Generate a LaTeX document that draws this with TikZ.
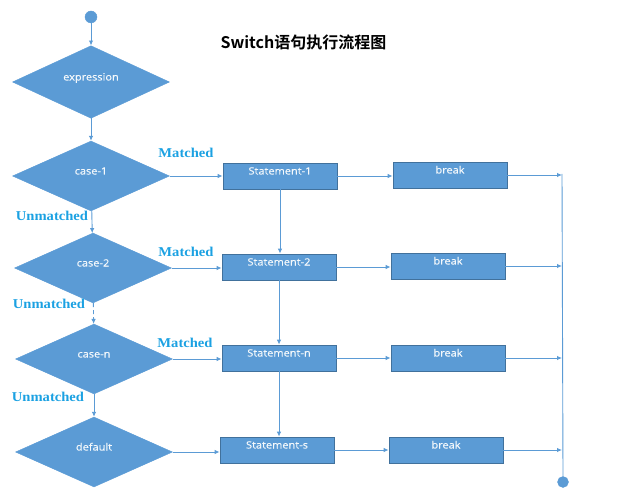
\documentclass[tikz,border=0pt]{standalone}
\usepackage{fontspec}
\usetikzlibrary{arrows.meta, shapes.geometric, positioning, calc}
\setmainfont{Open Sans}
\newfontfamily\boxfont{Open Sans}[FakeStretch=1.1, FakeBold=0.4]
\newfontfamily\lblfont{Liberation Serif}[FakeStretch=1.08]
\newfontfamily\titlefont{Noto Sans CJK SC}[BoldFont={Noto Sans CJK SC Bold}]
\definecolor{flowblue}{HTML}{5B9BD5}
\definecolor{flowedge}{HTML}{41719C}
\definecolor{flowline}{HTML}{5B9BD5}
\definecolor{lblblue}{HTML}{1BA1E2}
\tikzset{
  boxtext/.style={font=\boxfont\fontsize{10}{11}\selectfont, text=white!94!flowblue, text height=7pt, text depth=10pt},
  cond/.style={diamond, draw=flowblue, fill=flowblue, minimum width=157pt, minimum height=70pt, inner sep=0pt, boxtext},
  stmt/.style={rectangle, draw=flowedge, line width=0.8pt, fill=flowblue, minimum width=114pt, minimum height=26pt, inner sep=2pt, boxtext},
  term/.style={circle, draw=flowblue, fill=flowblue, minimum size=12pt, inner sep=0pt},
  lbl/.style={font=\lblfont\bfseries\fontsize{13.5}{14}\selectfont, text=lblblue, inner sep=0pt},
  pto/.style={-{Latex[length=5pt,width=4.5pt]}, flowline, line width=0.9pt},
  dpto/.style={pto, dashed, dash pattern=on 4pt off 3pt}
}
\begin{document}
\begin{tikzpicture}[x=1pt, y=-1pt]
  \useasboundingbox (0,0) rectangle (618,494);

  \node[font=\titlefont\bfseries\fontsize{16}{18}\selectfont, anchor=west] (title) at (217,42) {Switch语句执行流程图};

  % left column
  \node[term] (start) at (91,17) {};
  \node[cond] (expr) at (91,82) {expression};
  \node[cond] (c1) at (91,176) {case-1};
  \node[cond] (c2) at (93,268) {case-2};
  \node[cond] (cn) at (94,359) {case-n};
  \node[cond] (cd) at (94,452) {default};

  % statements and breaks
  \node[stmt] (s1) at (280,176) {Statement-1};
  \node[stmt] (s2) at (279,267) {Statement-2};
  \node[stmt] (sn) at (279,358) {Statement-n};
  \node[stmt] (ss) at (277,450) {Statement-s};
  \node[stmt] (b1) at (450,175) {break};
  \node[stmt] (b2) at (448,266) {break};
  \node[stmt] (bn) at (448,358) {break};
  \node[stmt] (bs) at (446,450) {break};

  \coordinate (rail) at (562,174);
  \node[term, minimum size=11pt] (stop) at (563,482) {};

  \node[lbl] (m1) at (186,153) {Matched};
  \node[lbl] (m2) at (186,252) {Matched};
  \node[lbl] (m3) at (185,343) {Matched};
  \node[lbl] (u1) at (52,216) {Unmatched};
  \node[lbl] (u2) at (49,304) {Unmatched};
  \node[lbl] (u3) at (48,397) {Unmatched};

  \draw[pto] (start) -- (expr);
  \draw[pto] (expr) -- (c1);
  \draw[pto] (c1) -- (c2);
  \draw[dpto] (c2) -- (cn);
  \draw[pto] (cn) -- (cd);

  \draw[pto] (c1.east) -- (s1.west |- c1.east);
  \draw[pto] (c2.east) -- (s2.west |- c2.east);
  \draw[pto] (cn.east) -- (sn.west |- cn.east);
  \draw[pto] (cd.east) -- (ss.west |- cd.east);

  \draw[pto] (s1) -- (s1 |- s2.north);
  \draw[pto] (s2) -- (s2 |- sn.north);
  \draw[pto] (sn) -- (sn |- ss.north);

  \draw[pto] (s1) -- (b1.west |- s1);
  \draw[pto] (s2) -- (b2.west |- s2);
  \draw[pto] (sn) -- (bn.west |- sn);
  \draw[pto] (ss) -- (bs.west |- ss);

  \foreach \b in {b1,b2,bn,bs}
    \draw[pto] (\b.east) -- (\b.east -| rail);
  \draw[flowline, line width=0.9pt] (rail) -- (stop.north);
\end{tikzpicture}
\end{document}
